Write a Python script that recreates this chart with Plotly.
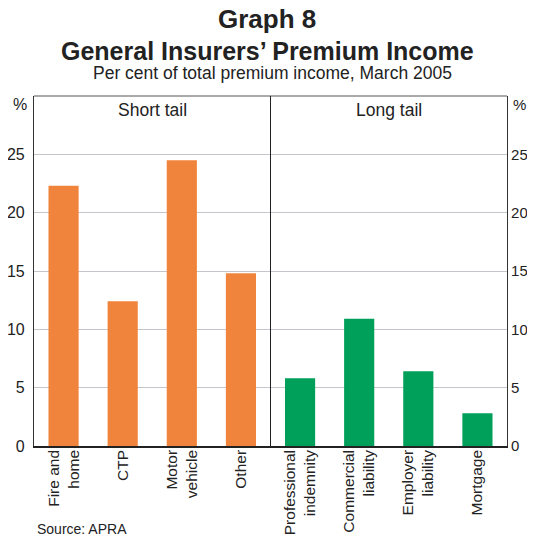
import plotly.graph_objects as go

categories = ["Fire and<br>home", "CTP", "Motor<br>vehicle", "Other",
              "Professional<br>indemnity", "Commercial<br>liability",
              "Employer<br>liability", "Mortgage"]
values = [22.3, 12.4, 24.5, 14.8, 5.8, 10.9, 6.4, 2.8]
groups = ["Short tail"] * 4 + ["Long tail"] * 4
group_colors = {"Short tail": "#F0843C", "Long tail": "#00A05A"}
y_ticks = [0, 5, 10, 15, 20, 25]

# page has an 8px body margin: the visible figure area is page x 8..527
OFF = 8
W, H = 535 - 2 * OFF, 536 - OFF
ML, MR, MT = 26, 20, 88
MB = H - 350 - MT
PW = W - ML - MR
PH = H - MT - MB

def xp(xref_px):
    return (xref_px - OFF - ML) / PW

def yp(yref_px):
    return 1 + (MT - (yref_px - OFF)) / PH

FONT = "Liberation Sans, Arial, sans-serif"
TXT = "#222222"

fig = go.Figure()
fig.add_trace(go.Bar(x=categories, y=values,
                     marker=dict(color=[group_colors[g] for g in groups], line=dict(width=0)),
                     hoverinfo="x+y"))
fig.add_trace(go.Scatter(x=categories, y=values, yaxis="y2", mode="markers",
                         marker=dict(opacity=0), hoverinfo="skip", showlegend=False))

axis_common = dict(range=[0, 30], tickvals=y_ticks, showline=True, automargin=False,
                   ticklabeloverflow="allow",
                   linecolor="#333333", linewidth=1.2, gridcolor="#C3C7CC", gridwidth=1,
                   zeroline=False)

fig.update_layout(
    width=W, height=H, margin=dict(l=ML, r=MR, t=MT, b=MB, autoexpand=False),
    paper_bgcolor="white", plot_bgcolor="white", showlegend=False,
    bargap=0.49,
    font=dict(family=FONT, color=TXT),
    xaxis=dict(type="category", tickangle=-90, showline=True, linecolor="#222222",
               linewidth=1.5, mirror=False, ticks="", showgrid=False, automargin=False,
               ticklabelstandoff=-4, ticklabeloverflow="allow",
               tickfont=dict(size=15.5, color=TXT, family=FONT)),
    yaxis=dict(side="left", ticks="outside", ticklen=5, tickcolor="rgba(0,0,0,0)",
               tickfont=dict(size=16, color=TXT, family=FONT), **axis_common),
    yaxis2=dict(side="right", overlaying="y", showgrid=False, ticks="",
                tickfont=dict(size=15, color=TXT, family=FONT), **axis_common),
)

# top border of the plot box
fig.add_shape(type="line", xref="paper", yref="paper", x0=0, x1=1, y0=1, y1=1,
              line=dict(color="#555555", width=1.2))
# divider between the groups
fig.add_shape(type="line", xref="x", yref="paper", x0=3.5, x1=3.5, y0=0, y1=1,
              line=dict(color="#222222", width=1))

def note(text, x, y, size, xref="paper", xanchor="center"):
    return dict(text=text, xref=xref, yref="paper", x=x, y=y, showarrow=False,
                xanchor=xanchor, yanchor="middle",
                font=dict(size=size, family=FONT, color=TXT))

ann = [
    note("<b>Graph 8</b>", xp(267), yp(19), 26),
    note("<b>General Insurers’ Premium Income</b>", xp(267.5), yp(51), 25),
    note("Per cent of total premium income, March 2005", xp(272.5), yp(73.2), 17.5),
    note("Short tail", 1.5, yp(110), 17.5, xref="x"),
    note("Long tail", 5.5, yp(110), 17.5, xref="x"),
    note("%", xp(19.7), yp(104), 16),
    note("%", xp(519), yp(104), 15),
    note("Source: APRA", xp(35), yp(528.5), 14, xanchor="left"),
]
fig.update_layout(annotations=ann)

fig.write_html("out.html")
